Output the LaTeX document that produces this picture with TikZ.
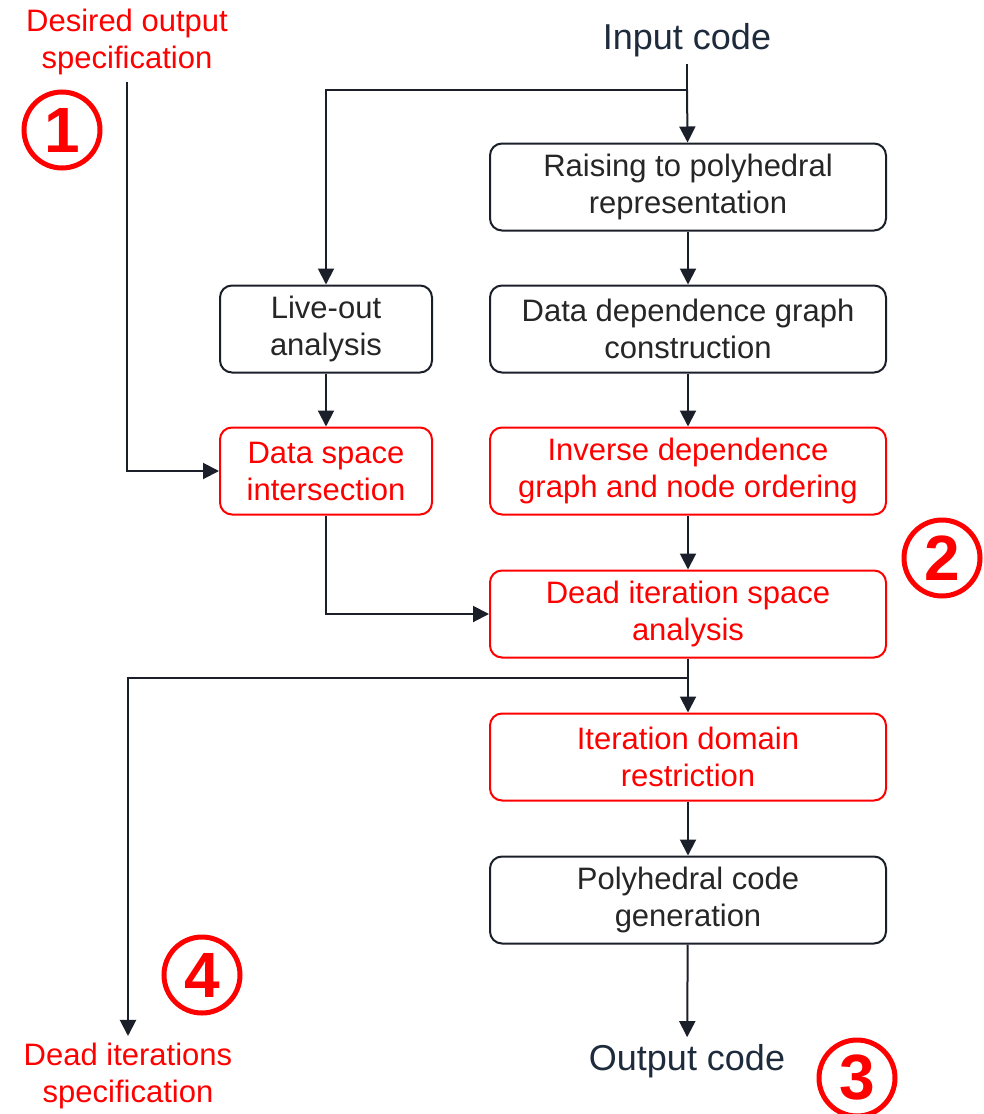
\documentclass[tikz,border=0pt]{standalone}
\usepackage{fontspec}
\setmainfont{Liberation Sans}
\usetikzlibrary{calc,arrows.meta}
\definecolor{linecol}{HTML}{1B1F2A}
\definecolor{txtcol}{HTML}{1E2B3C}

\begin{document}
\begin{tikzpicture}[x=0.5pt, y=-0.5pt,
    box/.style={draw=linecol, rounded corners=6pt, line width=1pt,
      minimum width=198pt, minimum height=43.5pt, align=center,
      text=black!85, font=\fontsize{15.5}{18.5}\selectfont},
    redbox/.style={box, draw=red, text=red},
    note/.style={align=center, text=red, font=\fontsize{15.5}{18.5}\selectfont},
    io/.style={text=txtcol, font=\fontsize{18}{20}\selectfont},
    num/.style={circle, draw=red, line width=2.5pt, text=red, minimum size=38pt,
      inner sep=0pt, font=\fontsize{32}{32}\selectfont\bfseries},
    arr/.style={-{Triangle[length=8pt,width=8pt]}, draw=linecol, line width=1pt}]
    \useasboundingbox (0,0) rectangle (984,1114);

    % Input and output
    \node[io] (in) at (687,40) {Input code};
    \node[io] (out) at (687,1061) {Output code};

    % Main column
    \node[box] (raise) at (688,187) {Raising to polyhedral\\representation};
    \node[box] (ddg) at (688,329) {Data dependence graph\\construction};
    \node[redbox] (inv) at (688,471) {Inverse dependence\\graph and node ordering};
    \node[redbox] (dead) at (688,614) {Dead iteration space\\analysis};
    \node[redbox] (dom) at (688,757) {Iteration domain\\restriction};
    \node[box] (gen) at (688,900) {Polyhedral code\\generation};

    % Left column
    \node[box, minimum width=106pt] (live) at (326,329) {Live-out\\analysis};
    \node[redbox, minimum width=106pt] (dsi) at (326,471) {Data space\\intersection};

    % Specifications
    \node[note] (spec) at (127,42) {Desired output\\specification};
    \node[note] (deadspec) at (128,1076) {Dead iterations\\specification};

    % Numbers
    \node[num] (n1) at (62,130) {1};
    \node[num] (n2) at (942,558) {2};
    \node[num] (n3) at (857,1078) {3};
    \node[num] (n4) at (202,975) {4};

    \coordinate (split) at (687,90);
    \coordinate (split2) at (687,678);

    \draw[draw=linecol, line width=1pt] (in) -- (split);
    \draw[arr] (split) -- (raise);
    \draw[arr] (split) -| (live);
    \draw[arr] (raise) -- (ddg);
    \draw[arr] (ddg) -- (inv);
    \draw[arr] (inv) -- (dead);
    \draw[arr] (live) -- (dsi);
    \draw[arr] (spec) |- (dsi);
    \draw[arr] (dsi) |- (dead);
    \draw[arr] (dead) -- (dom);
    \draw[arr] (split2) -| (deadspec);
    \draw[arr] (dom) -- (gen);
    \draw[arr] (gen) -- (out);
\end{tikzpicture}
\end{document}
